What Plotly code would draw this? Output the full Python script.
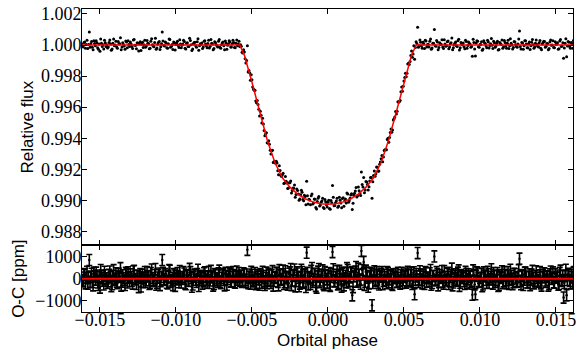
import numpy as np
import plotly.graph_objects as go
from plotly.subplots import make_subplots

# two interleaved sets of points; orbital phase in units of 1e-4
phase_a_e4 = [
    -162, -161, -160, -159, -158, -157, -156, -155, -154, -153,
    -152, -151, -150, -149, -148, -147, -146, -145, -144, -143,
    -142, -141, -140, -139, -138, -137, -136, -135, -134, -133,
    -132, -131, -130, -129, -128, -127, -126, -125, -124, -123,
    -122, -121, -120, -119, -118, -117, -116, -115, -114, -113,
    -112, -111, -110, -109, -108, -107, -106, -105, -104, -103,
    -102, -101, -100, -99, -98, -97, -96, -95, -94, -93,
    -92, -91, -90, -89, -88, -87, -86, -85, -84, -83,
    -82, -81, -80, -79, -78, -77, -76, -75, -74, -73,
    -72, -71, -70, -69, -68, -67, -66, -65, -64, -63,
    -62, -61, -60, -59,
    -58, -57, -56, -55, -54, -53, -52, -51, -50, -49,
    -48, -47, -46, -45, -44, -43, -42, -41, -40, -39,
    -38, -37, -36, -35, -34, -33, -32, -31, -30, -29,
    -28, -27, -26, -25, -24, -23, -22, -21, -20, -19,
    -18, -17, -16, -15, -14, -13, -12, -11, -10, -9,
    -8, -7, -6, -5, -4, -3, -2, -1, 0,
    1, 2, 3, 4, 5, 6, 7, 8, 9, 10,
    11, 12, 13, 14, 15, 16, 17, 18, 19, 20,
    21, 22, 23, 24, 25, 26, 27, 28, 29, 30,
    31, 32, 33, 34, 35, 36, 37, 38, 39, 40,
    41, 42, 43, 44, 45, 46, 47, 48, 49, 50,
    51, 52, 53, 54, 55, 56, 57, 58,
    59, 60, 61, 62, 63, 64, 65, 66, 67, 68,
    69, 70, 71, 72, 73, 74, 75, 76, 77, 78,
    79, 80, 81, 82, 83, 84, 85, 86, 87, 88,
    89, 90, 91, 92, 93, 94, 95, 96, 97, 98,
    99, 100, 101, 102, 103, 104, 105, 106, 107, 108,
    109, 110, 111, 112, 113, 114, 115, 116, 117, 118,
    119, 120, 121, 122, 123, 124, 125, 126, 127, 128,
    129, 130, 131, 132, 133, 134, 135, 136, 137, 138,
    139, 140, 141, 142, 143, 144, 145, 146, 147, 148,
    149, 150, 151, 152, 153, 154, 155, 156, 157, 158,
    159, 160, 161, 162,
]

flux_a = [
    1.00005, 0.99988, 1.00020, 1.00003, 0.99978, 1.00084, 1.00009, 0.99985, 1.00027, 0.99996,
    1.00014, 0.99972, 0.99960, 1.00011, 1.00002, 1.00031, 0.99991, 0.99981, 1.00017, 1.00006,
    0.99975, 1.00038, 1.00000, 0.99987, 1.00022, 1.00008, 0.99969, 1.00015, 0.99994, 1.00026,
    0.99983, 1.00004, 1.00019, 0.99990, 1.00033, 0.99998, 0.99976, 1.00012, 1.00007, 0.99965,
    1.00018, 1.00001, 0.99986, 1.00029, 1.00010, 0.99980, 1.00041, 0.99993, 1.00016, 0.99973,
    1.00005, 1.00023, 0.99989, 1.00084, 0.99997, 1.00020, 0.99982, 1.00009, 1.00036, 0.99992,
    0.99971, 1.00014, 1.00003, 1.00025, 0.99984, 1.00007, 0.99999, 1.00030, 0.99979, 1.00012,
    0.99991, 1.00044, 1.00002, 0.99974, 1.00017, 0.99995, 1.00021, 0.99967, 1.00008, 1.00013,
    0.99988, 1.00028, 0.99996, 1.00010, 0.99981, 1.00035, 1.00006, 0.99977, 1.00015, 0.99993,
    1.00024, 0.99985, 1.00004, 1.00019, 0.99970, 1.00011, 0.99998, 1.00027, 0.99987, 1.00008,
    1.00016, 0.99982, 1.00032, 1.00006,
    0.99990, 0.99992, 0.99949, 0.99955, 0.99885, 0.99995, 0.99836, 0.99773, 0.99777, 0.99717,
    0.99709, 0.99628, 0.99617, 0.99543, 0.99548, 0.99529, 0.99450, 0.99429, 0.99370, 0.99383,
    0.99323, 0.99319, 0.99243, 0.99252, 0.99251, 0.99191, 0.99223, 0.99159, 0.99164, 0.99109,
    0.99154, 0.99111, 0.99080, 0.99113, 0.99047, 0.99079, 0.99099, 0.99038, 0.99063, 0.99000,
    0.99036, 0.99052, 0.98997, 0.99025, 0.99123, 0.98976, 0.99002, 0.99029, 0.98976, 0.99009,
    0.98953, 0.98993, 0.99024, 0.98970, 0.98995, 0.98953, 0.99005, 0.98972, 0.98987,
    0.98948, 0.98998, 0.99096, 0.98965, 0.98984, 0.99014, 0.98963, 0.99000, 0.98952, 0.99017,
    0.98995, 0.98982, 0.99041, 0.98997, 0.99034, 0.98941, 0.99033, 0.99060, 0.99021, 0.99085,
    0.99045, 0.99183, 0.99086, 0.99048, 0.99121, 0.99102, 0.99088, 0.99147, 0.99013, 0.99159,
    0.99155, 0.99214, 0.99187, 0.99233, 0.99267, 0.99249, 0.99320, 0.99325, 0.99391, 0.99374,
    0.99437, 0.99439, 0.99517, 0.99536, 0.99556, 0.99634, 0.99637, 0.99699, 0.99703, 0.99768,
    0.99818, 0.99818, 0.99883, 0.99894, 0.99962, 0.99942, 0.99908, 1.00021,
    1.00115, 0.99996, 1.00018, 0.99979, 1.00009, 1.00030, 0.99987, 1.00005, 1.00024, 0.99973,
    1.00012, 1.00100, 0.99992, 1.00020, 0.99984, 1.00003, 1.00034, 0.99978, 1.00007, 0.99995,
    1.00026, 0.99988, 1.00015, 0.99970, 1.00001, 1.00019, 0.99991, 1.00037, 0.99982, 1.00006,
    1.00013, 0.99976, 1.00022, 0.99997, 1.00010, 0.99985, 0.99928, 1.00017, 0.99930, 1.00028,
    0.99989, 1.00004, 1.00021, 0.99974, 1.00014, 0.99994, 1.00031, 0.99981, 1.00008, 0.99998,
    1.00025, 0.99986, 1.00011, 0.99968, 1.00016, 1.00003, 0.99980, 1.00029, 0.99993, 1.00012,
    0.99977, 1.00040, 1.00000, 0.99984, 1.00020, 0.99990, 1.00007, 1.00090, 0.99975, 1.00013,
    0.99996, 1.00027, 0.99983, 1.00009, 0.99971, 1.00018, 1.00002, 0.99988, 1.00033, 0.99992,
    1.00015, 0.99979, 1.00006, 1.00024, 0.99986, 1.00010, 0.99969, 1.00019, 0.99999, 1.00028,
    0.99982, 1.00005, 1.00014, 0.99976, 1.00036, 0.99994, 0.99915, 1.00011, 0.99925, 1.00022,
    0.99990, 1.00017, 0.99980, 1.00030,
]

phase_b_e4 = [
    -161.5, -160.5, -159.5, -158.5, -157.5, -156.5, -155.5, -154.5, -153.5, -152.5,
    -151.5, -150.5, -149.5, -148.5, -147.5, -146.5, -145.5, -144.5, -143.5, -142.5,
    -141.5, -140.5, -139.5, -138.5, -137.5, -136.5, -135.5, -134.5, -133.5, -132.5,
    -131.5, -130.5, -129.5, -128.5, -127.5, -126.5, -125.5, -124.5, -123.5, -122.5,
    -121.5, -120.5, -119.5, -118.5, -117.5, -116.5, -115.5, -114.5, -113.5, -112.5,
    -111.5, -110.5, -109.5, -108.5, -107.5, -106.5, -105.5, -104.5, -103.5, -102.5,
    -101.5, -100.5, -99.5, -98.5, -97.5, -96.5, -95.5, -94.5, -93.5, -92.5,
    -91.5, -90.5, -89.5, -88.5, -87.5, -86.5, -85.5, -84.5, -83.5, -82.5,
    -81.5, -80.5, -79.5, -78.5, -77.5, -76.5, -75.5, -74.5, -73.5, -72.5,
    -71.5, -70.5, -69.5, -68.5, -67.5, -66.5, -65.5, -64.5, -63.5, -62.5,
    -61.5, -60.5, -59.5, -58.5,
    -57.5, -56.5, -55.5, -54.5, -53.5, -52.5, -51.5, -50.5, -49.5, -48.5,
    -47.5, -46.5, -45.5, -44.5, -43.5, -42.5, -41.5, -40.5, -39.5, -38.5,
    -37.5, -36.5, -35.5, -34.5, -33.5, -32.5, -31.5, -30.5, -29.5, -28.5,
    -27.5, -26.5, -25.5, -24.5, -23.5, -22.5, -21.5, -20.5, -19.5, -18.5,
    -17.5, -16.5, -15.5, -14.5, -13.5, -12.5, -11.5, -10.5, -9.5, -8.5,
    -7.5, -6.5, -5.5, -4.5, -3.5, -2.5, -1.5, -0.5,
    0.5, 1.5, 2.5, 3.5, 4.5, 5.5, 6.5, 7.5, 8.5, 9.5,
    10.5, 11.5, 12.5, 13.5, 14.5, 15.5, 16.5, 17.5, 18.5, 19.5,
    20.5, 21.5, 22.5, 23.5, 24.5, 25.5, 26.5, 27.5, 28.5, 29.5,
    30.5, 31.5, 32.5, 33.5, 34.5, 35.5, 36.5, 37.5, 38.5, 39.5,
    40.5, 41.5, 42.5, 43.5, 44.5, 45.5, 46.5, 47.5, 48.5, 49.5,
    50.5, 51.5, 52.5, 53.5, 54.5, 55.5, 56.5, 57.5,
    58.5, 59.5, 60.5, 61.5, 62.5, 63.5, 64.5, 65.5, 66.5, 67.5,
    68.5, 69.5, 70.5, 71.5, 72.5, 73.5, 74.5, 75.5, 76.5, 77.5,
    78.5, 79.5, 80.5, 81.5, 82.5, 83.5, 84.5, 85.5, 86.5, 87.5,
    88.5, 89.5, 90.5, 91.5, 92.5, 93.5, 94.5, 95.5, 96.5, 97.5,
    98.5, 99.5, 100.5, 101.5, 102.5, 103.5, 104.5, 105.5, 106.5, 107.5,
    108.5, 109.5, 110.5, 111.5, 112.5, 113.5, 114.5, 115.5, 116.5, 117.5,
    118.5, 119.5, 120.5, 121.5, 122.5, 123.5, 124.5, 125.5, 126.5, 127.5,
    128.5, 129.5, 130.5, 131.5, 132.5, 133.5, 134.5, 135.5, 136.5, 137.5,
    138.5, 139.5, 140.5, 141.5, 142.5, 143.5, 144.5, 145.5, 146.5, 147.5,
    148.5, 149.5, 150.5, 151.5, 152.5, 153.5, 154.5, 155.5, 156.5, 157.5,
    158.5, 159.5, 160.5, 161.5,
]

flux_b = [
    0.99992, 1.00017, 0.99979, 1.00031, 1.00004, 0.99986, 1.00022, 0.99970, 1.00010, 1.00027,
    0.99983, 1.00006, 1.00039, 0.99991, 0.99974, 1.00015, 1.00001, 0.99988, 1.00032, 0.99966,
    1.00012, 0.99995, 1.00024, 0.99980, 1.00009, 1.00047, 0.99987, 1.00003, 0.99972, 1.00019,
    1.00028, 0.99990, 1.00007, 0.99978, 1.00035, 0.99998, 1.00014, 0.99962, 1.00021, 1.00005,
    0.99984, 1.00030, 0.99993, 1.00011, 0.99976, 1.00025, 1.00002, 0.99989, 1.00043, 0.99981,
    1.00016, 0.99971, 1.00008, 1.00026, 0.99994, 1.00013, 0.99979, 1.00038, 0.99986, 1.00004,
    1.00020, 0.99968, 1.00011, 0.99997, 1.00034, 0.99983, 1.00006, 1.00023, 0.99975, 1.00015,
    0.99990, 1.00029, 0.99964, 1.00009, 1.00018, 0.99985, 1.00040, 0.99996, 1.00003, 0.99978,
    1.00024, 1.00007, 0.99982, 1.00031, 0.99992, 1.00012, 0.99969, 1.00021, 1.00001, 0.99987,
    1.00036, 0.99980, 1.00014, 0.99995, 1.00026, 0.99973, 1.00009, 1.00019, 0.99988, 1.00030,
    0.99984, 1.00012, 0.99996, 1.00025,
    1.00001, 0.99953, 0.99970, 0.99912, 0.99901, 0.99827, 0.99822, 0.99808, 0.99729, 0.99708,
    0.99640, 0.99643, 0.99586, 0.99573, 0.99498, 0.99491, 0.99416, 0.99435, 0.99369, 0.99361,
    0.99298, 0.99322, 0.99249, 0.99239, 0.99240, 0.99165, 0.99192, 0.99153, 0.99175, 0.99111,
    0.99123, 0.99076, 0.99113, 0.99124, 0.99063, 0.99078, 0.99019, 0.99073, 0.99040, 0.99009,
    0.99065, 0.99006, 0.99032, 0.98971, 0.99030, 0.99007, 0.98972, 0.99040, 0.98983, 0.99007,
    0.98944, 0.99013, 0.98964, 0.98987, 0.99014, 0.98947, 0.98990, 0.98957,
    0.99000, 0.98943, 0.98984, 0.99019, 0.98967, 0.98996, 0.98956, 0.99019, 0.98983, 0.99011,
    0.98962, 0.99009, 0.99047, 0.98987, 0.99014, 0.99042, 0.98981, 0.99046, 0.99083, 0.99029,
    0.99061, 0.99031, 0.99101, 0.99147, 0.99067, 0.99118, 0.99067, 0.99125, 0.99147, 0.99120,
    0.99188, 0.99170, 0.99213, 0.99189, 0.99247, 0.99289, 0.99279, 0.99325, 0.99326, 0.99400,
    0.99405, 0.99460, 0.99452, 0.99525, 0.99572, 0.99574, 0.99631, 0.99643, 0.99729, 0.99734,
    0.99791, 0.99795, 0.99878, 0.99874, 0.99933, 0.99922, 0.99996, 0.99984,
    1.00010, 0.99985, 1.00033, 0.99993, 1.00018, 0.99977, 1.00026, 1.00004, 0.99988, 1.00039,
    0.99981, 1.00012, 0.99996, 1.00029, 0.99970, 1.00015, 1.00005, 0.99987, 1.00034, 0.99992,
    1.00021, 0.99976, 1.00008, 1.00045, 0.99983, 1.00011, 0.99995, 1.00027, 0.99968, 1.00016,
    1.00002, 0.99989, 1.00031, 0.99979, 1.00019, 1.00007, 0.99991, 1.00037, 0.99974, 1.00013,
    1.00024, 0.99986, 1.00003, 0.99966, 1.00028, 1.00010, 0.99982, 1.00020, 0.99997, 1.00042,
    0.99978, 1.00014, 0.99993, 1.00025, 0.99971, 1.00008, 1.00033, 0.99988, 1.00017, 0.99980,
    1.00030, 0.99995, 1.00011, 0.99975, 1.00022, 1.00001, 0.99985, 1.00038, 0.99990, 1.00016,
    0.99972, 1.00027, 1.00006, 0.99983, 1.00019, 0.99996, 1.00035, 0.99979, 1.00012, 1.00004,
    0.99987, 1.00029, 0.99969, 1.00015, 1.00023, 0.99992, 1.00009, 0.99977, 1.00032, 1.00000,
    0.99984, 1.00021, 1.00005, 0.99973, 1.00026, 0.99990, 1.00014, 0.99981, 1.00040, 0.99994,
    1.00018, 0.99979, 1.00008, 1.00027,
]

# transit model (red curve)
model_phase = [-0.0162, -0.0058, -0.0057, -0.0055, -0.0050, -0.0045, -0.0040, -0.0035,
               -0.0030, -0.0025, -0.0020, -0.0015, -0.0010, -0.0005, 0.0,
               0.0005, 0.0010, 0.0015, 0.0020, 0.0025, 0.0030, 0.0035, 0.0040,
               0.0045, 0.0050, 0.0055, 0.0057, 0.0058, 0.0162]
model_flux = [1.0, 1.0, 0.99978, 0.99935, 0.99760, 0.99570, 0.99390, 0.99245,
              0.99145, 0.99085, 0.99040, 0.99010, 0.98990, 0.98978, 0.98974,
              0.98978, 0.98990, 0.99010, 0.99040, 0.99085, 0.99145, 0.99245, 0.99390,
              0.99570, 0.99760, 0.99935, 0.99978, 1.0, 1.0]

err_ppm = 250

phase = np.concatenate([phase_a_e4, phase_b_e4]) * 1e-4
flux = np.concatenate([flux_a, flux_b])
# observed minus computed, ppm
oc = (flux - np.interp(phase, model_phase, model_flux)) * 1e6

fig = make_subplots(rows=2, cols=1, shared_xaxes=True, vertical_spacing=0,
                    row_heights=[0.78, 0.22])

fig.add_trace(go.Scatter(x=phase, y=flux, mode="markers",
                         marker=dict(color="black", size=3)), row=1, col=1)
fig.add_trace(go.Scatter(x=model_phase, y=model_flux, mode="lines",
                         line=dict(color="red", width=1.5)), row=1, col=1)
fig.add_trace(go.Scatter(x=phase, y=oc, mode="markers",
                         marker=dict(color="black", size=2.5),
                         error_y=dict(type="constant", value=err_ppm, color="black",
                                      thickness=1.6, width=3)), row=2, col=1)
fig.add_hline(y=0, line=dict(color="red", width=2), row=2, col=1)

tick_font = dict(family="Liberation Serif, Times New Roman, serif", size=18, color="black")
title_font = dict(family="Liberation Sans, Arial, sans-serif", size=17, color="black")
axis_style = dict(showline=True, linecolor="black", linewidth=1, mirror="ticks",
                  ticks="inside", ticklen=5, tickcolor="black", showgrid=False,
                  zeroline=False, tickfont=tick_font, automargin=False,
                  ticklabelstandoff=-4)

fig.update_xaxes(axis_style)
fig.update_yaxes(axis_style)
fig.update_xaxes(range=[-0.01618, 0.01612], tick0=0, dtick=0.005, tickformat=".3f")
fig.update_xaxes(showticklabels=False, row=1, col=1)
fig.update_xaxes(title=dict(text="Orbital phase", font=title_font, standoff=5),
                 ticklabelstandoff=-9, row=2, col=1)
fig.update_yaxes(range=[0.98710, 1.00232], tick0=0.988, dtick=0.002, tickformat=".3f",
                 title=dict(text="Relative flux", font=title_font, standoff=2),
                 row=1, col=1)
fig.update_yaxes(range=[-1500, 1500], tickvals=[-1000, 0, 1000],
                 title=dict(text="O-C [ppm]", font=title_font, standoff=6),
                 row=2, col=1)

fig.update_layout(width=582, height=359, showlegend=False,
                  margin=dict(l=82, r=9, t=9, b=47),
                  plot_bgcolor="white", paper_bgcolor="white")

fig.write_html("out.html", config={"displayModeBar": False},
               post_script="document.body.style.margin='0';")
